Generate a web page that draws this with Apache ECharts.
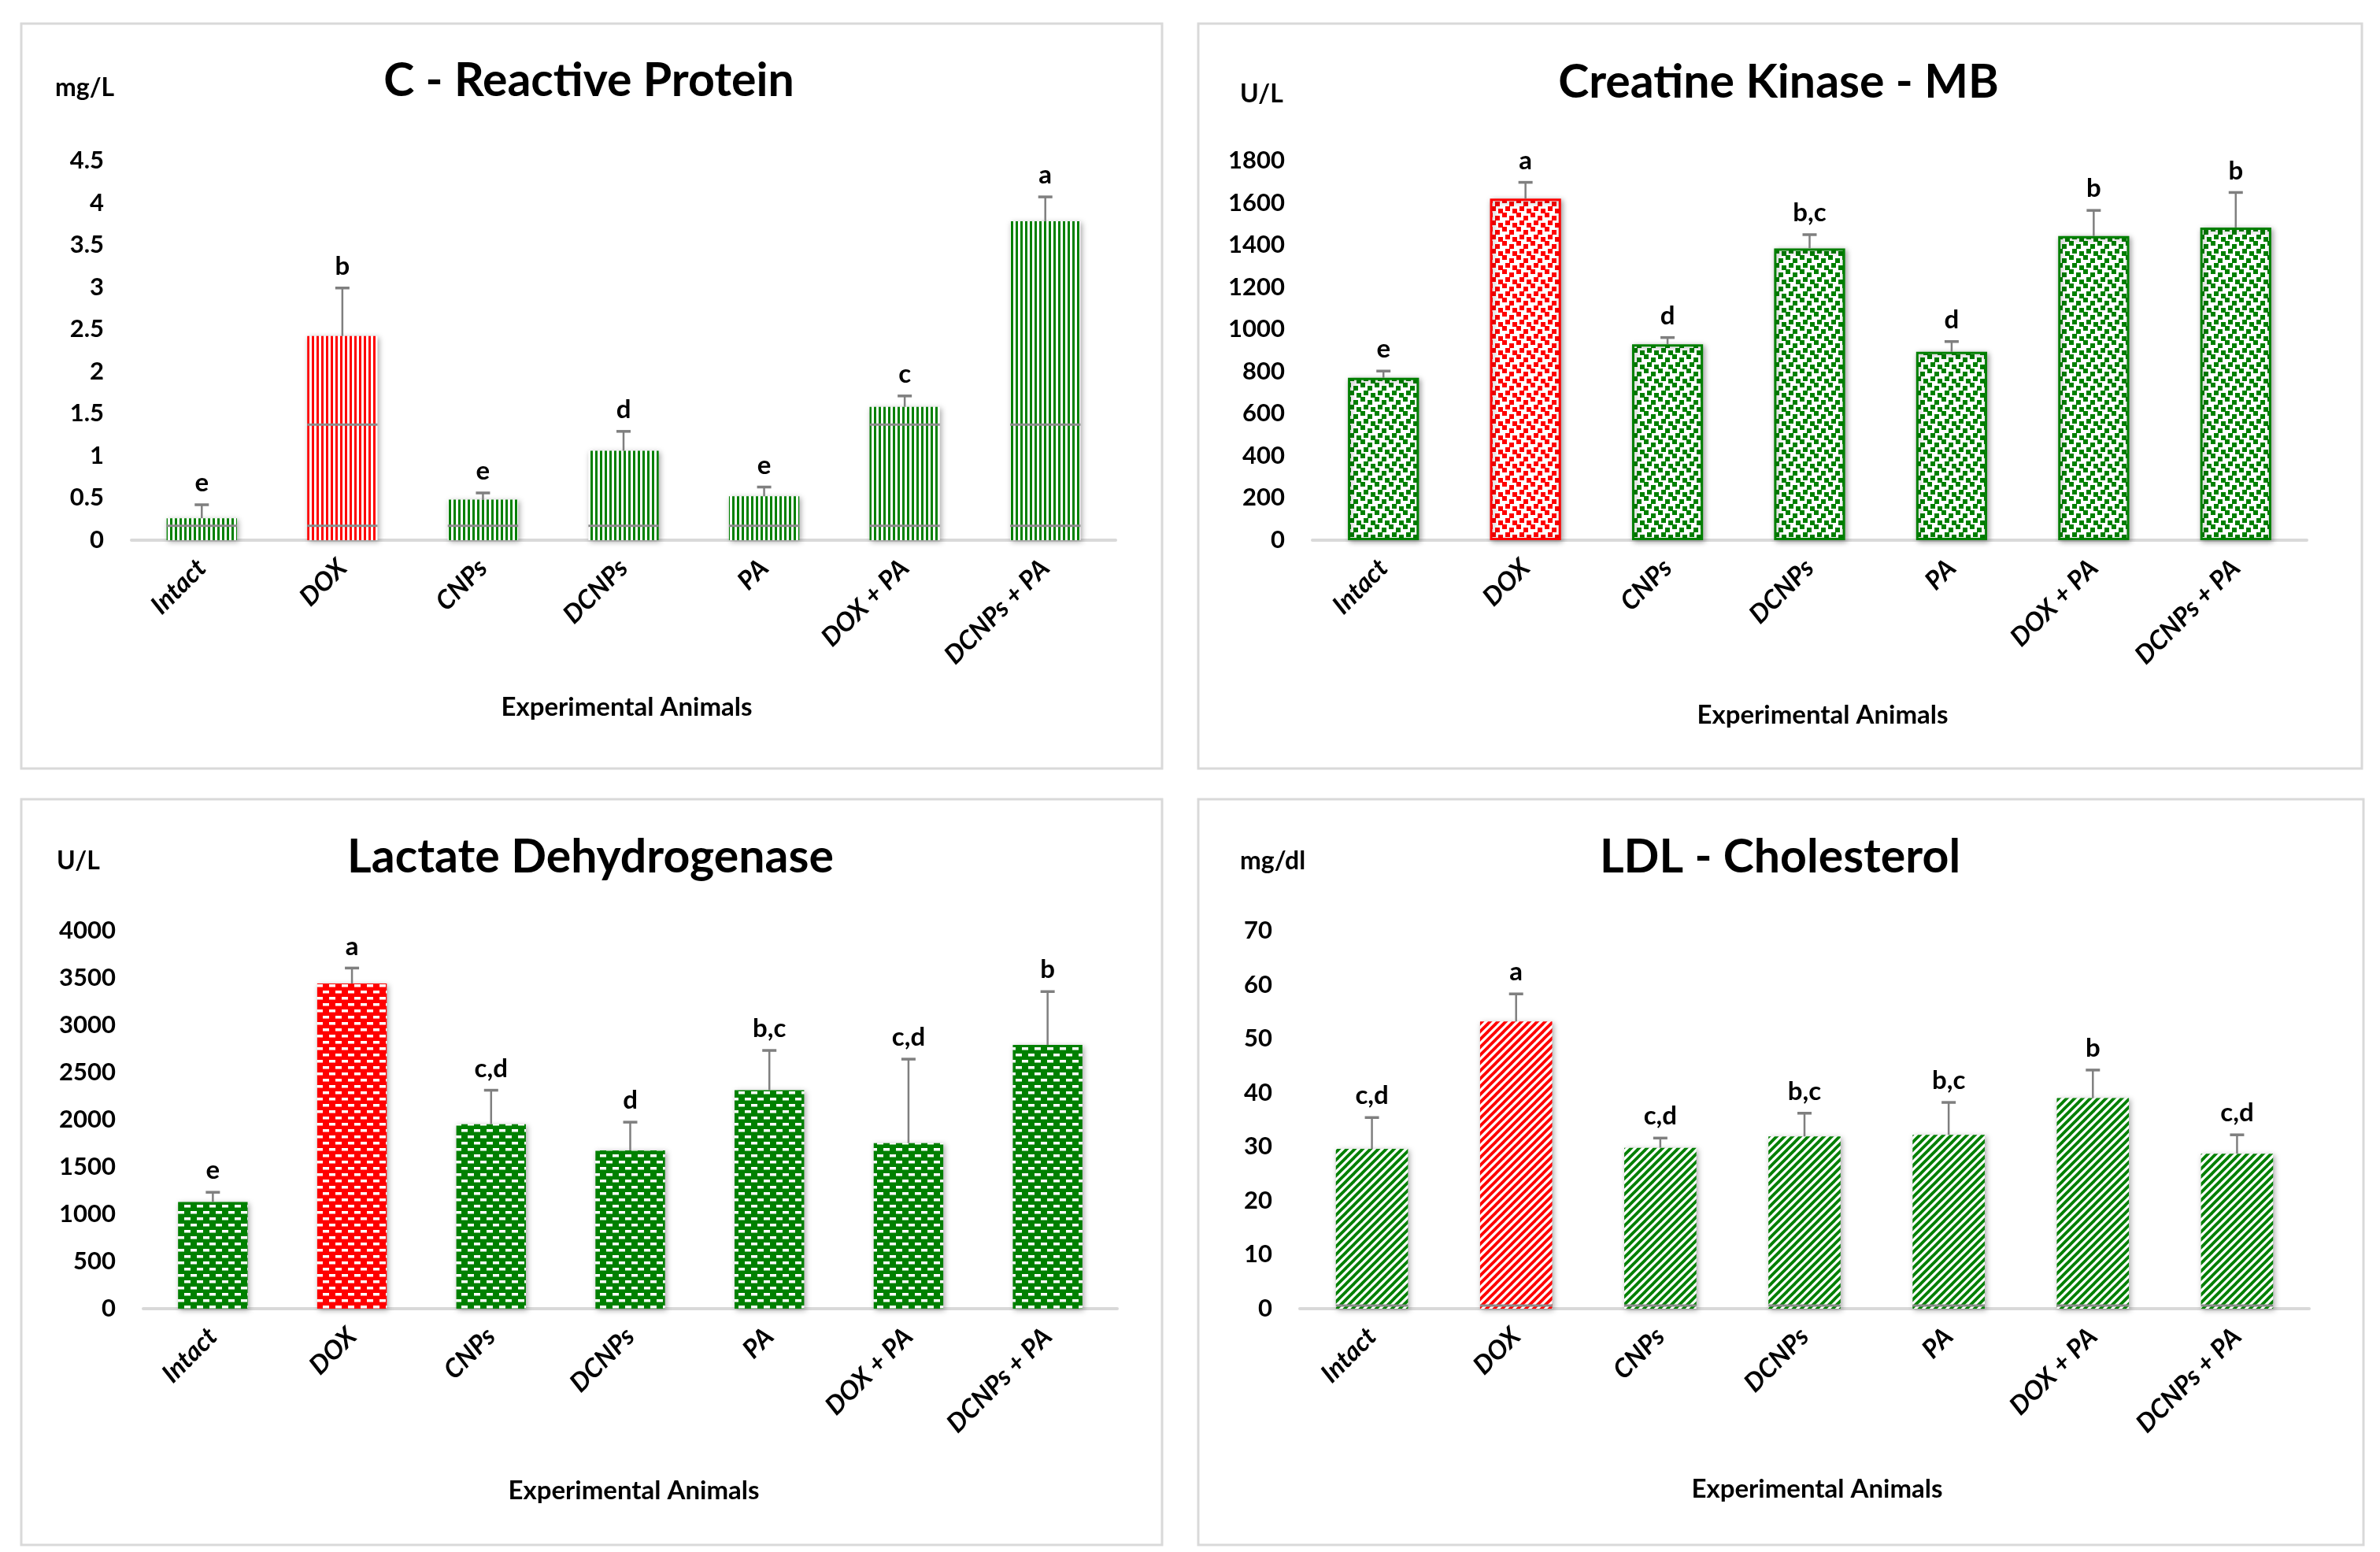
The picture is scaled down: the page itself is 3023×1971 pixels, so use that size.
<!DOCTYPE html>
<html>
<head>
<meta charset="utf-8">
<script src="https://cdn.jsdelivr.net/npm/echarts@6/dist/echarts.min.js"></script>
<style>
html,body{margin:0;padding:0;background:#fff;}
#main{width:3023px;height:1971px;}
</style>
</head>
<body>
<div id="main"></div>
<script>
// ---------- DATA ----------
const categories = ['Intact', 'DOX', 'CNPs', 'DCNPs', 'PA', 'DOX + PA', 'DCNPs + PA'];

const crpMean = [0.26, 2.42, 0.48, 1.06, 0.52, 1.58, 3.78];
const crpSD   = [0.16, 0.57, 0.08, 0.23, 0.11, 0.13, 0.29];
const crpSig  = ['e', 'b', 'e', 'd', 'e', 'c', 'a'];
const crpGuideLines = [0.17, 1.37];

const ckMean = [770, 1620, 929, 1384, 893, 1442, 1483];
const ckSD   = [32, 77, 32, 65, 49, 122, 166];
const ckSig  = ['e', 'a', 'd', 'b,c', 'd', 'b', 'b'];

const ldhMean = [1130, 3441, 1952, 1675, 2312, 1752, 2791];
const ldhSD   = [102, 164, 360, 299, 421, 889, 565];
const ldhSig  = ['e', 'a', 'c,d', 'd', 'b,c', 'c,d', 'b'];

const ldlMean = [29.6, 53.2, 29.8, 31.9, 32.2, 39.0, 28.7];
const ldlSD   = [5.8, 5.1, 1.8, 4.3, 6.0, 5.2, 3.5];
const ldlSig  = ['c,d', 'a', 'c,d', 'b,c', 'b,c', 'b', 'c,d'];
const ldlGuideLines = [0.6];

const titles = ['C - Reactive Protein', 'Creatine Kinase - MB', 'Lactate Dehydrogenase', 'LDL - Cholesterol'];
const units = ['mg/L', 'U/L', 'U/L', 'mg/dl'];
const xAxisTitle = 'Experimental Animals';

// ---------- STYLE ----------
const GREEN = '#008000';
const RED = '#ff0000';
const FONT = 'Lato, "Open Sans", sans-serif';

function makePattern(type, color) {
  const c = document.createElement('canvas');
  let ctx;
  if (type === 'vstripe') {
    c.width = 6; c.height = 6; ctx = c.getContext('2d');
    ctx.fillStyle = '#fff'; ctx.fillRect(0, 0, 6, 6);
    ctx.fillStyle = color; ctx.fillRect(0, 0, 3, 6);
  } else if (type === 'confetti') {
    const s = 18;
    c.width = s; c.height = s; ctx = c.getContext('2d');
    ctx.fillStyle = '#fff'; ctx.fillRect(0, 0, s, s);
    ctx.fillStyle = color;
    const sq = [[0,0],[9,4],[4,10],[13,13]];
    sq.forEach(([x, y]) => {
      for (let dx = -s; dx <= s; dx += s)
        for (let dy = -s; dy <= s; dy += s)
          ctx.fillRect(x + dx, y + dy, 6, 6);
    });
  } else if (type === 'brick') {
    c.width = 16; c.height = 16; ctx = c.getContext('2d');
    ctx.fillStyle = color; ctx.fillRect(0, 0, 16, 16);
    ctx.fillStyle = '#fff';
    ctx.fillRect(2, 2, 8, 3.5);
    ctx.fillRect(10, 10, 8, 3.5);
    ctx.fillRect(-6, 10, 8, 3.5);
  } else if (type === 'diag') {
    const s = 10;
    c.width = s; c.height = s; ctx = c.getContext('2d');
    ctx.fillStyle = '#fff'; ctx.fillRect(0, 0, s, s);
    ctx.strokeStyle = color; ctx.lineWidth = 3.8;
    for (let k = 0; k <= 2; k++) {
      ctx.beginPath();
      ctx.moveTo(-s, k * s + s);
      ctx.lineTo(k * s + s, -s);
      ctx.stroke();
    }
  }
  return { image: c, repeat: 'repeat' };
}

const panels = [
  { mean: crpMean, sd: crpSD, sig: crpSig, guides: crpGuideLines, max: 4.5, interval: 0.5, pattern: 'vstripe', border: 0,
    grid: { left: 167, top: 204, width: 1250, height: 482 } },
  { mean: ckMean, sd: ckSD, sig: ckSig, guides: [], max: 1800, interval: 200, pattern: 'confetti', border: 3,
    grid: { left: 1667, top: 204, width: 1263, height: 482 } },
  { mean: ldhMean, sd: ldhSD, sig: ldhSig, guides: [], max: 4000, interval: 500, pattern: 'brick', border: 0,
    grid: { left: 182, top: 1182, width: 1237, height: 480 } },
  { mean: ldlMean, sd: ldlSD, sig: ldlSig, guides: ldlGuideLines, max: 70, interval: 10, pattern: 'diag', border: 0,
    grid: { left: 1651, top: 1182, width: 1282, height: 480 } }
];

const panelBoxes = [
  { x: 27, y: 30, w: 1449, h: 946 },
  { x: 1522, y: 30, w: 1478, h: 946 },
  { x: 27, y: 1015, w: 1449, h: 947 },
  { x: 1522, y: 1015, w: 1480, h: 947 }
];
const titlePos = [[748, 103], [2259, 105], [750, 1089], [2261, 1089]];
const unitPos = [[70, 112], [1575, 120], [72, 1094], [1575, 1094]];
const xTitlePos = [[796, 898], [2315, 908], [805, 1893], [2308, 1891]];

const grids = [], xAxes = [], yAxes = [], series = [];

panels.forEach((p, k) => {
  grids.push(Object.assign({ containLabel: false }, p.grid));
  xAxes.push({
    type: 'category', gridIndex: k, data: categories,
    axisLine: { show: true, lineStyle: { color: '#d9d9d9', width: 4 } },
    axisTick: { show: false },
    axisLabel: { rotate: 45, margin: 30, interval: 0, color: '#000', fontFamily: FONT, fontSize: 33, fontWeight: 'bold', fontStyle: 'italic' },
    splitLine: { show: false }
  });
  yAxes.push({
    type: 'value', gridIndex: k, min: 0, max: p.max, interval: p.interval,
    axisLine: { show: false }, axisTick: { show: false },
    splitLine: { show: false },
    axisLabel: { margin: 35, color: '#000', fontFamily: FONT, fontSize: 31, fontWeight: 'bold', formatter: v => String(v) }
  });
  const greenPat = makePattern(p.pattern, GREEN);
  const redPat = makePattern(p.pattern, RED);
  series.push({
    type: 'bar', xAxisIndex: k, yAxisIndex: k, barWidth: '50%',
    data: p.mean.map((v, i) => ({
      value: v,
      itemStyle: {
        color: i === 1 ? redPat : greenPat,
        borderColor: i === 1 ? RED : GREEN,
        borderWidth: p.border,
        shadowBlur: 7, shadowColor: 'rgba(0,0,0,0.35)', shadowOffsetX: 2, shadowOffsetY: 2
      }
    })),
    animation: false, z: 2
  });
  // grey guide strokes visible inside bars
  const guideData = [];
  p.guides.forEach(g => p.mean.forEach((v, i) => { if (v > g) guideData.push([i, g]); }));
  if (guideData.length) {
    series.push({
      type: 'custom', xAxisIndex: k, yAxisIndex: k, data: guideData, z: 3, animation: false,
      renderItem: (params, api) => {
        const c = api.coord([api.value(0), api.value(1)]);
        const w = api.size([1, 0])[0] * 0.5;
        return { type: 'line', shape: { x1: c[0] - w / 2, y1: c[1], x2: c[0] + w / 2, y2: c[1] },
          style: { stroke: '#8c8c8c', lineWidth: 3 } };
      }
    });
  }
  // error bars + significance letters
  series.push({
    type: 'custom', xAxisIndex: k, yAxisIndex: k, z: 4, animation: false,
    data: p.mean.map((v, i) => [i, v, v + p.sd[i]]),
    renderItem: (params, api) => {
      const i = api.value(0);
      const a = api.coord([i, api.value(1)]);
      const b = api.coord([i, api.value(2)]);
      return { type: 'group', children: [
        { type: 'line', shape: { x1: a[0], y1: a[1], x2: b[0], y2: b[1] }, style: { stroke: '#7f7f7f', lineWidth: 2.5 } },
        { type: 'line', shape: { x1: b[0] - 9, y1: b[1], x2: b[0] + 9, y2: b[1] }, style: { stroke: '#7f7f7f', lineWidth: 3.5 } },
        { type: 'text', x: b[0], y: b[1] - 11, style: { text: p.sig[i], fill: '#000', font: 'bold 33px ' + FONT, textAlign: 'center', textVerticalAlign: 'bottom' } }
      ] };
    }
  });
});

const graphics = [];
panelBoxes.forEach(b => graphics.push({ type: 'rect', shape: { x: b.x, y: b.y, width: b.w, height: b.h }, style: { fill: null, stroke: '#d9d9d9', lineWidth: 3 }, z: 0 }));
titles.forEach((t, k) => graphics.push({ type: 'text', x: titlePos[k][0], y: titlePos[k][1], style: { text: t, fill: '#000', font: 'bold 59px ' + FONT, textAlign: 'center', textVerticalAlign: 'middle' } }));
units.forEach((t, k) => graphics.push({ type: 'text', x: unitPos[k][0], y: unitPos[k][1], style: { text: t, fill: '#000', font: 'bold 32px ' + FONT, textAlign: 'left', textVerticalAlign: 'middle' } }));
xTitlePos.forEach((pos, k) => graphics.push({ type: 'text', x: pos[0], y: pos[1], style: { text: xAxisTitle, fill: '#000', font: 'bold 33px ' + FONT, textAlign: 'center', textVerticalAlign: 'middle' } }));

const chart = echarts.init(document.getElementById('main'));
chart.setOption({
  backgroundColor: '#fff',
  animation: false,
  grid: grids, xAxis: xAxes, yAxis: yAxes, series: series,
  graphic: { elements: graphics }
});
</script>
</body>
</html>
